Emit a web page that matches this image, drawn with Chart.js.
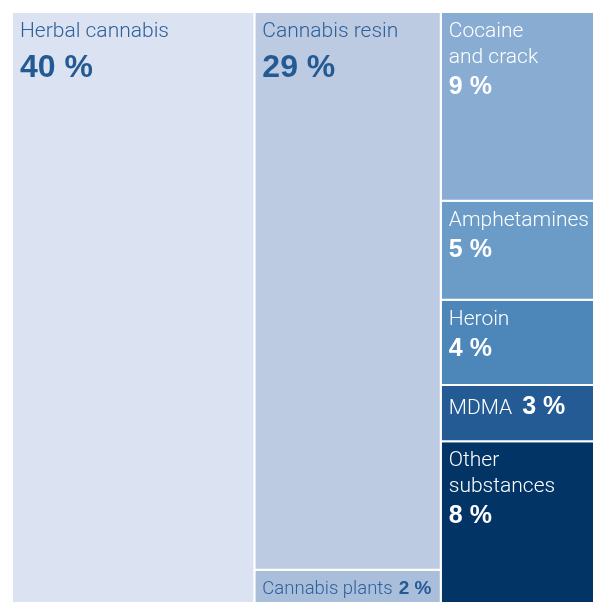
<!DOCTYPE html>
<html>
<head>
<meta charset="utf-8">
<script src="https://cdn.jsdelivr.net/npm/chart.js@4.4.1/dist/chart.umd.min.js"></script>
<style>
  html, body { margin: 0; padding: 0; background: #fff; overflow: hidden; }
  /* one pixel wider/taller than the window so the outer cell borders fall off-screen */
  #wrap { width: 594px; height: 603px; position: relative; }
</style>
</head>
<body>
<div id="wrap"><canvas id="treemap"></canvas></div>
<script>
// Shares of seizures by substance, one treemap cell each
const categories = ['Herbal cannabis', 'Cannabis resin', 'Cannabis plants', 'Cocaine and crack',
                    'Amphetamines', 'Heroin', 'MDMA', 'Other substances'];
const labelLines = [['Herbal cannabis'], ['Cannabis resin'], ['Cannabis plants'], ['Cocaine', 'and crack'],
                    ['Amphetamines'], ['Heroin'], ['MDMA'], ['Other', 'substances']];
// cell sizes (%)
const shares = [41.6, 30.2, 1.8, 8.4, 4.4, 3.8, 2.5, 7.2];
// the printed values
const valueLabels = ['40 %', '29 %', '2 %', '9 %', '5 %', '4 %', '3 %', '8 %'];
// which column of the treemap each cell sits in
const columns = [0, 1, 1, 2, 2, 2, 2, 2];
const fillColors = ['#dbe3f2', '#bccbe2', '#a9bedb', '#88acd2', '#6b9bc7', '#4d86b9', '#245b94', '#023466'];
const darkText = [true, true, true, false, false, false, false, false];

// Columns side by side (width = column total), cells stacked inside each column
function layoutCells() {
    const colTotals = [];
    columns.forEach((c, i) => colTotals[c] = (colTotals[c] || 0) + shares[i]);
    const grand = colTotals.reduce((a, b) => a + b, 0);
    const colStart = [];
    let acc = 0;
    colTotals.forEach((t, c) => { colStart[c] = acc; acc += t / grand * 100; });
    const yAcc = colTotals.map(() => 0);
    return shares.map((v, i) => {
        const c = columns[i];
        const x0 = colStart[c];
        const x1 = x0 + colTotals[c] / grand * 100;
        const y0 = yAcc[c];
        const y1 = y0 + v / colTotals[c] * 100;
        yAcc[c] = y1;
        return { x0, x1, y0, y1 };
    });
}

const cells = layoutCells();

const datasets = cells.map((r, i) => ({
    label: categories[i],
    data: [
        { x: r.x0, y: r.y0 }, { x: r.x1, y: r.y0 }, { x: r.x1, y: r.y1 },
        { x: r.x0, y: r.y1 }, { x: r.x0, y: r.y0 }
    ],
    showLine: true,
    fill: 'shape',
    backgroundColor: fillColors[i],
    borderColor: '#ffffff',
    borderWidth: 2,
    pointRadius: 0,
    tension: 0,
    clip: false
}));

const LABEL_FONT = 'Roboto, "Liberation Sans", sans-serif';
const VALUE_FONT = '"Liberation Sans", Arial, sans-serif';

const cellLabels = {
    id: 'cellLabels',
    afterDatasetsDraw(chart) {
        const { ctx, scales: { x, y } } = chart;
        ctx.save();
        ctx.textBaseline = 'alphabetic';
        ctx.textAlign = 'left';
        cells.forEach((r, i) => {
            const left = x.getPixelForValue(r.x0) + 8;
            const top = y.getPixelForValue(r.y0);
            const height = y.getPixelForValue(r.y1) - top;
            const lines = labelLines[i];
            const labelColor = darkText[i] ? '#2e6099' : '#ffffff';
            const valueColor = darkText[i] ? '#245a93' : '#ffffff';
            const bigValue = shares[i] >= 20;
            const inline = 26 * lines.length + 36 > height;
            const tiny = height < 45;

            ctx.fillStyle = labelColor;
            ctx.font = '300 ' + (tiny ? 18.5 : 21) + 'px ' + LABEL_FONT;
            if (inline) {
                const base = top + Math.min(29, height / 2 + 8);
                ctx.fillText(lines[0], left, base);
                const w = ctx.measureText(lines[0]).width;
                const vSize = tiny ? 19 : 25;
                ctx.fillStyle = valueColor;
                ctx.font = 'bold ' + vSize + 'px ' + VALUE_FONT;
                ctx.fillText(valueLabels[i], left + w + (tiny ? 6 : 10), base);
                return;
            }
            lines.forEach((ln, k) => ctx.fillText(ln, left, top + 25 + 26 * k));
            const lastBase = top + 25 + 26 * (lines.length - 1);
            ctx.fillStyle = valueColor;
            ctx.font = 'bold ' + (bigValue ? 32 : 25) + 'px ' + VALUE_FONT;
            ctx.fillText(valueLabels[i], left, lastBase + (bigValue ? 40 : 31));
        });
        ctx.restore();
    }
};

new Chart(document.getElementById('treemap'), {
    type: 'scatter',
    data: { datasets },
    options: {
        responsive: true,
        maintainAspectRatio: false,
        animation: false,
        events: [],
        layout: { padding: { left: 12, top: 12, right: 0, bottom: 0 } },
        plugins: { legend: { display: false }, tooltip: { enabled: false } },
        scales: {
            x: { type: 'linear', min: 0, max: 100, display: false },
            y: { type: 'linear', min: 0, max: 100, reverse: true, display: false }
        }
    },
    plugins: [cellLabels]
});
</script>
</body>
</html>
